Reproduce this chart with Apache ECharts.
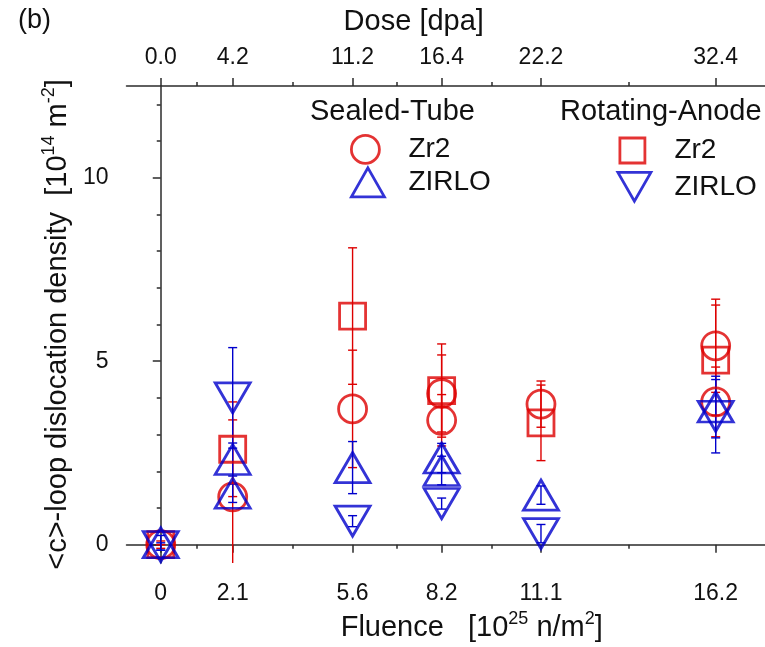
<!DOCTYPE html>
<html>
<head>
<meta charset="utf-8">
<script src="https://cdn.jsdelivr.net/npm/echarts@6/dist/echarts.min.js"></script>
<style>
html, body { margin: 0; padding: 0; background: #fff; }
#chart { width: 765px; height: 647px; }
</style>
</head>
<body>
<div id="chart"></div>
<script>
var RED = '#dd0000', BLUE = '#0000cc', AXIS = '#2b2b2b';
var FONT = '"Liberation Sans", Arial, sans-serif';

// axis ticks: fluence at bottom, dose on top
var fluenceTicks = [0, 2.1, 5.6, 8.2, 11.1, 16.2];
var fluenceLabels = ['0', '2.1', '5.6', '8.2', '11.1', '16.2'];
var doseLabels = ['0.0', '4.2', '11.2', '16.4', '22.2', '32.4'];
var fluenceMinor = [1.05, 3.85, 6.9, 9.65, 13.65];
var yMajor = [0, 5, 10];
var yMinor = [1, 2, 3, 4, 6, 7, 8, 9, 11, 12];

// [fluence, density, error]
var stZr2 = [[0, 0, 0], [2.1, 1.3, 2.1], [5.6, 3.7, 1.6], [8.2, 4.12, 1.05], [8.2, 3.39, 0.7],
             [11.1, 3.83, 0.63], [16.2, 5.42, 1.27], [16.2, 3.89, 0.95]];
var stZirlo = [[0, 0.05, 0.2], [2.1, 2.32, 0.45], [2.1, 1.4, 0.25], [5.6, 2.1, 0.71], [8.2, 2.36, 0.4],
               [8.2, 2.02, 0.39], [11.1, 1.35, 0.25], [16.2, 3.75, 0.84]];
var raZr2 = [[0, 0, 0.1], [2.1, 2.6, 1.29], [5.6, 6.23, 1.86], [8.2, 4.2, 1.27], [11.1, 3.32, 1.03], [16.2, 5.03, 1.5]];
var raZirlo = [[0, -0.05, 0.1], [2.1, 4.0, 1.37], [5.6, 0.64, 0.15], [8.2, 1.12, 0.15], [11.1, 0.3, 0.25], [16.2, 3.5, 1.0]];

var legendNames = { stZr2: 'Zr2', stZirlo: 'ZIRLO', raZr2: 'Zr2', raZirlo: 'ZIRLO' };

var chart = echarts.init(document.getElementById('chart'));

function errSeries(data, color) {
	return {
		type: 'custom',
		clip: true,
		silent: true,
		z: 1,
		encode: { x: 0, y: [1, 2] },
		data: data.map(function (d) { return [d[0], d[1] - d[2], d[1] + d[2]]; }),
		renderItem: function (params, api) {
			var lo = api.coord([api.value(0), api.value(1)]);
			var hi = api.coord([api.value(0), api.value(2)]);
			var w = 4.5;
			var st = { stroke: color, lineWidth: 1.4 };
			return {
				type: 'group',
				children: [
					{ type: 'line', shape: { x1: lo[0], y1: lo[1], x2: hi[0], y2: hi[1] }, style: st },
					{ type: 'line', shape: { x1: lo[0] - w, y1: lo[1], x2: lo[0] + w, y2: lo[1] }, style: st },
					{ type: 'line', shape: { x1: hi[0] - w, y1: hi[1], x2: hi[0] + w, y2: hi[1] }, style: st }
				]
			};
		}
	};
}

function markSeries(name, data, symbol, size, color) {
	return {
		name: name,
		type: 'scatter',
		clip: false,
		z: 3,
		symbol: symbol,
		symbolSize: size,
		data: data.map(function (d) { return [d[0], d[1]]; }),
		itemStyle: { color: 'transparent', borderColor: color, borderWidth: 2.8 },
		emphasis: { disabled: true }
	};
}

// one legend per entry so each icon keeps its own size
function legendItem(name, left, top, w, h, gap) {
	return {
		left: left, top: top, orient: 'vertical', itemWidth: w, itemHeight: h,
		data: [name],
		selectedMode: false,
		formatter: function (n) { return '{g|}{t|' + legendNames[n] + '}'; },
		itemStyle: { borderWidth: 2.8 },
		textStyle: {
			rich: {
				g: { width: gap },
				t: { fontSize: 28, color: '#111', fontFamily: FONT }
			}
		}
	};
}

var DOWN_TRI = 'path://M0,0L2,0L1,1.75Z';

var tickStyle = { color: AXIS, width: 1.5 };
var nameRich = {
	n: { fontSize: 29, color: '#111', fontFamily: FONT, lineHeight: 32, verticalAlign: 'bottom' },
	s: { fontSize: 18, color: '#111', fontFamily: FONT, lineHeight: 18, verticalAlign: 'top' }
};

option = {
	animation: false,
	backgroundColor: '#fff',
	textStyle: { fontFamily: FONT },
	grid: { left: 126.5, right: 0, top: 86, bottom: 80.3 },
	xAxis: [
		{
			type: 'value', position: 'bottom', min: -1, max: 17.64,
			axisLine: { show: true, lineStyle: tickStyle },
			axisTick: { show: true, customValues: fluenceTicks, length: 8, lineStyle: tickStyle },
			axisLabel: {
				customValues: fluenceTicks, margin: 19, fontSize: 23, color: '#111', fontFamily: FONT,
				formatter: function (v) { return fluenceLabels[fluenceTicks.indexOf(v)]; }
			},
			splitLine: { show: false },
			name: '{n|Fluence   [10}{s|25}{n| n/m}{s|2}{n|]}',
			nameLocation: 'middle', nameGap: 47,
			nameTextStyle: { padding: [0, 0, 0, 52], rich: nameRich }
		},
		{
			type: 'value', position: 'bottom', min: -1, max: 17.64,
			axisLine: { show: false },
			axisTick: { show: true, customValues: fluenceMinor, length: 4, lineStyle: tickStyle },
			axisLabel: { show: false },
			splitLine: { show: false }
		},
		{
			type: 'value', position: 'top', min: -1, max: 17.64,
			axisLine: { show: true, lineStyle: tickStyle },
			axisTick: { show: true, customValues: fluenceTicks, length: 8, lineStyle: tickStyle },
			axisLabel: {
				customValues: fluenceTicks, margin: 17, fontSize: 23, color: '#111', fontFamily: FONT,
				formatter: function (v) { return doseLabels[fluenceTicks.indexOf(v)]; }
			},
			splitLine: { show: false },
			name: 'Dose [dpa]',
			nameLocation: 'middle', nameGap: 50,
			nameTextStyle: { fontSize: 29, color: '#111', fontFamily: FONT, padding: [0, 64, 0, 0] }
		},
		{
			type: 'value', position: 'top', min: -1, max: 17.64,
			axisLine: { show: false },
			axisTick: { show: true, customValues: fluenceMinor, length: 4, lineStyle: tickStyle },
			axisLabel: { show: false },
			splitLine: { show: false }
		}
	],
	yAxis: [
		{
			type: 'value', position: 'left', min: -0.5, max: 12.5,
			axisLine: { show: true, lineStyle: tickStyle },
			axisTick: { show: true, customValues: yMajor, length: 8, lineStyle: tickStyle },
			axisLabel: { customValues: yMajor, margin: 18, fontSize: 23, color: '#111', fontFamily: FONT },
			splitLine: { show: false },
			name: '{n|<c>-loop dislocation density  [10}{s|14}{n| m}{s|-2}{n|]}',
			nameLocation: 'middle', nameRotate: 90, nameGap: 54,
			nameTextStyle: { rich: nameRich }
		},
		{
			type: 'value', position: 'left', min: -0.5, max: 12.5,
			axisLine: { show: false },
			axisTick: { show: true, customValues: yMinor, length: 4, lineStyle: tickStyle },
			axisLabel: { show: false },
			splitLine: { show: false }
		}
	],
	legend: [
		legendItem('stZr2', 345, 129, 28, 28, 24),
		legendItem('stZirlo', 345, 161.5, 33, 29, 19),
		legendItem('raZr2', 613.5, 131.5, 25, 25, 24.5),
		legendItem('raZirlo', 611.5, 166, 33, 30, 18.5)
	],
	graphic: [
		{ type: 'text', left: 18, top: 7, style: { text: '(b)', fontSize: 27, fill: '#111', fontFamily: FONT } },
		{ type: 'text', left: 310, top: 97, style: { text: 'Sealed-Tube', fontSize: 29, fill: '#111', fontFamily: FONT } },
		{ type: 'text', left: 560, top: 97, style: { text: 'Rotating-Anode', fontSize: 29, fill: '#111', fontFamily: FONT } }
	],
	series: [
		errSeries(stZr2, RED),
		errSeries(raZr2, RED),
		errSeries(stZirlo, BLUE),
		errSeries(raZirlo, BLUE),
		markSeries('stZr2', stZr2, 'circle', 28, RED),
		markSeries('raZr2', raZr2, 'rect', 26, RED),
		markSeries('stZirlo', stZirlo, 'triangle', [35, 30], BLUE),
		markSeries('raZirlo', raZirlo, DOWN_TRI, [35, 30], BLUE)
	]
};

chart.setOption(option);
</script>
</body>
</html>
